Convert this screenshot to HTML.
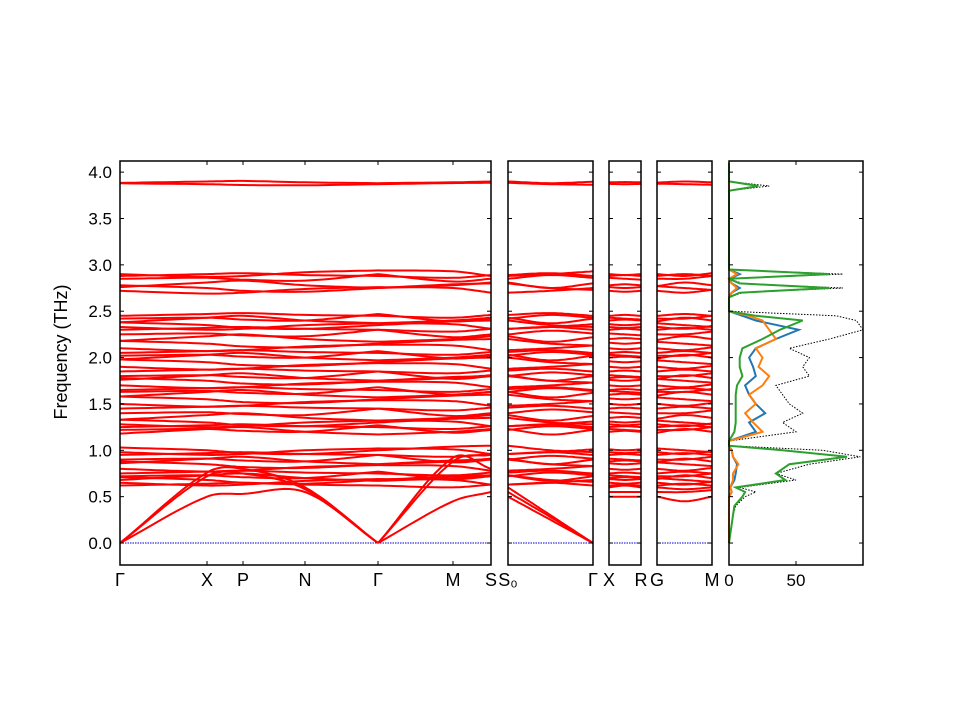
<!DOCTYPE html>
<html><head><meta charset="utf-8"><style>
body{margin:0;background:#fff}
svg{display:block;font-family:"Liberation Sans","DejaVu Sans",sans-serif}
</style></head><body>
<svg id="c" width="960" height="720"></svg>
<script>
// ---- data ----
const yTicks=[0.0,0.5,1.0,1.5,2.0,2.5,3.0,3.5,4.0];
const levels=[0.62,0.65,0.68,0.70,0.72,0.75,0.80,0.85,0.88,0.90,0.95,0.98,1.00,1.20,1.22,1.25,1.28,1.30,1.35,1.40,1.45,1.50,1.55,1.60,1.63,1.65,1.70,1.75,1.78,1.80,1.85,1.90,1.95,2.00,2.02,2.05,2.10,2.15,2.20,2.25,2.30,2.33,2.35,2.40,2.42,2.45,2.72,2.75,2.78,2.85,2.88,2.90,3.87,3.89];
const p0=[0,0.02,0.03,0.01,0,-0.02,0.01, 0.01,0.03,0, 0,0.01,0, 0,0.02,0];
const p1=[0,-0.03,-0.02,0.02,0.04,0.03,-0.02, -0.02,0,0.03, 0,-0.01,0, 0,-0.02,0.01];
const p2=[0.03,0,-0.03,-0.04,0,0.04,0.05, 0.05,0,-0.02, 0.01,0,0.01, 0.02,0,-0.02];
const p3=[-0.02,0.03,0.05,0,-0.03,0,0.03, 0.03,-0.03,0.02, 0,0.01,0, -0.01,0.03,0];
const p4=[0,0.01,-0.01,-0.02,0.05,-0.03,0, 0,0.04,0.01, 0.01,0,-0.01, 0,0,0.03];
const ac1=[0,0.50,0.53,0.55,0,0.45,0.55, 0.55,0.28,0, 0.50,0.50,0.50, 0.50,0.45,0.50];
const ac2=[0,0.72,0.75,0.58,0,0.88,0.95, 0.60,0.30,0, 0.55,0.55,0.55, 0.60,0.58,0.60];
const ac3=[0,0.76,0.80,0.60,0,0.92,0.80, 0.50,0.25,0, 0.60,0.62,0.60, 0.55,0.55,0.57];
const dosF=[0,0.1,0.2,0.3,0.4,0.5,0.55,0.6,0.68,0.75,0.85,0.93,1.0,1.05,1.1,1.2,1.3,1.4,1.5,1.6,1.7,1.8,1.9,2.0,2.1,2.2,2.3,2.4,2.45,2.5,2.65,2.7,2.75,2.8,2.85,2.9,2.95,3.0,3.8,3.85,3.9,4.1];
const dosTotal=[0,1,2,3,5,12,20,8,50,35,60,98,70,0,0,50,40,55,45,40,35,60,55,60,45,75,100,95,80,0,0,10,85,10,0,85,0,0,0,30,0,0];
const dosBlue=[0,0,0,0,0,0,2,1,4,5,6,3,2,0,0,20,15,27,20,15,12,20,18,15,20,35,52,20,10,0,0,2,8,2,0,8,0,0,0,0,0,0];
const dosOrange=[0,0,0,0,0,0,2,1,3,3,7,3,2,0,0,25,18,12,20,15,25,30,22,25,20,35,30,25,15,0,0,2,6,2,0,6,0,0,0,0,0,0];
const dosGreen=[0,1,2,3,4,10,12,5,42,35,45,88,40,0,0,4,5,5,5,5,6,10,8,8,10,25,38,55,20,0,0,8,75,8,0,75,0,0,0,22,0,0];
const dosTicks=[0,50];
// ---- layout ----
const NS="http://www.w3.org/2000/svg";
const svg=document.getElementById('c');
const yTop=161,yBot=565,fMin=-0.237,fMax=4.12;
const y=f=>yBot-(f-fMin)/(fMax-fMin)*(yBot-yTop);
const panels=[
 {x0:120,x1:491,nodes:[120,207,243,305,378,453,491],labels:['Γ','X','P','N','Γ','M','S'],idx:[0,1,2,3,4,5,6],split:4},
 {x0:508,x1:593,nodes:[508,550.5,593],labels:['S₀','','Γ'],idx:[7,8,9]},
 {x0:609,x1:641,nodes:[609,625,641],labels:['X','','R'],idx:[10,11,12]},
 {x0:657,x1:712,nodes:[657,684.5,712],labels:['G','','M'],idx:[13,14,15]}];
function mk(t,a,p){const e=document.createElementNS(NS,t);for(const k in a)e.setAttribute(k,a[k]);(p||svg).appendChild(e);return e;}
function cr(xs,vs){let pts=[];const n=xs.length;
 for(let i=0;i<n-1;i++){const m0=i>0?(vs[i+1]-vs[i-1])/(xs[i+1]-xs[i-1]):(vs[1]-vs[0])/(xs[1]-xs[0]);
  const m1=i<n-2?(vs[i+2]-vs[i])/(xs[i+2]-xs[i]):(vs[i+1]-vs[i])/(xs[i+1]-xs[i]);const h=xs[i+1]-xs[i];
  for(let s=0;s<=12;s++){const t=s/12,t2=t*t,t3=t2*t;
   const v=(2*t3-3*t2+1)*vs[i]+(t3-2*t2+t)*h*m0+(-2*t3+3*t2)*vs[i+1]+(t3-t2)*h*m1;
   pts.push((xs[i]+t*h).toFixed(1)+','+y(v).toFixed(1));}}
 return pts.join(' ');}
const pats=[p0,p1,p2,p3,p4];
const bands=levels.map((L,i)=>pats[i%5].map(d=>L+d*(L>3.5?0.3:1)));
bands.push(ac1,ac2,ac3);
panels.forEach((P,pi)=>{
 const g=mk('g',{});
 
 
 mk('line',{x1:P.x0,x2:P.x1,y1:y(0),y2:y(0),stroke:'#0000cc','stroke-width':1,'stroke-dasharray':'1.5,1'},g);
 bands.forEach(b=>{const vs=P.idx.map(k=>b[k]);
  const segs=P.split?[[0,P.split],[P.split,vs.length-1]]:[[0,vs.length-1]];
  segs.forEach(([a,c])=>{const pl=mk('polyline',{points:cr(P.nodes.slice(a,c+1),vs.slice(a,c+1)),fill:'none',stroke:'#ff0000','stroke-width':2},g);
   
   });});
 mk('rect',{x:P.x0,y:yTop,width:P.x1-P.x0,height:yBot-yTop,fill:'none',stroke:'#000','stroke-width':1.5},g);
 yTicks.forEach(t=>{mk('line',{x1:P.x0,x2:P.x0+4,y1:y(t),y2:y(t),stroke:'#000'},g);mk('line',{x1:P.x1,x2:P.x1-4,y1:y(t),y2:y(t),stroke:'#000'},g);});
 P.nodes.forEach((nx,i)=>{if(!P.labels[i])return;
  mk('line',{x1:nx,x2:nx,y1:yBot,y2:yBot-4,stroke:'#000'},g);mk('line',{x1:nx,x2:nx,y1:yTop,y2:yTop+4,stroke:'#000'},g);
  const tx=mk('text',{x:nx,y:yBot+21,'text-anchor':'middle','font-size':18},g);tx.textContent=P.labels[i];
  
  });
});
yTicks.forEach(t=>{const tx=mk('text',{x:112,y:y(t)+6,'text-anchor':'end','font-size':17});tx.textContent=t.toFixed(1);
 
 });
const yl=mk('text',{x:0,y:0,transform:'translate(67,352) rotate(-90)','text-anchor':'middle','font-size':18});yl.textContent='Frequency (THz)';


const d0=729,d1=863,dMax=100;
const dx=v=>d0+v/dMax*(d1-d0);
const dg=mk('g',{});


function dline(arr,col,w,dash,name){const pts=arr.map((v,i)=>dx(v).toFixed(1)+','+y(dosF[i]).toFixed(1)).join(' ');
 const a={points:pts,fill:'none',stroke:col,'stroke-width':w};if(dash)a['stroke-dasharray']=dash;const pl=mk('polyline',a,dg);
 
 }
dline(dosTotal,'#000',1,'1.5,1.5','dos-total');
dline(dosBlue,'#1f77b4',2,null,'dos-blue');
dline(dosOrange,'#ff7f0e',2,null,'dos-orange');
dline(dosGreen,'#2ca02c',2,null,'dos-green');
mk('rect',{x:d0,y:yTop,width:d1-d0,height:yBot-yTop,fill:'none',stroke:'#000','stroke-width':1.5},dg);
yTicks.forEach(t=>{mk('line',{x1:d0,x2:d0+4,y1:y(t),y2:y(t),stroke:'#000'},dg);mk('line',{x1:d1,x2:d1-4,y1:y(t),y2:y(t),stroke:'#000'},dg);});
dosTicks.forEach(t=>{mk('line',{x1:dx(t),x2:dx(t),y1:yBot,y2:yBot-4,stroke:'#000'},dg);mk('line',{x1:dx(t),x2:dx(t),y1:yTop,y2:yTop+4,stroke:'#000'},dg);
 const tx=mk('text',{x:dx(t),y:yBot+21,'text-anchor':'middle','font-size':17},dg);tx.textContent=t;
 
 });
</script>
</body></html>
